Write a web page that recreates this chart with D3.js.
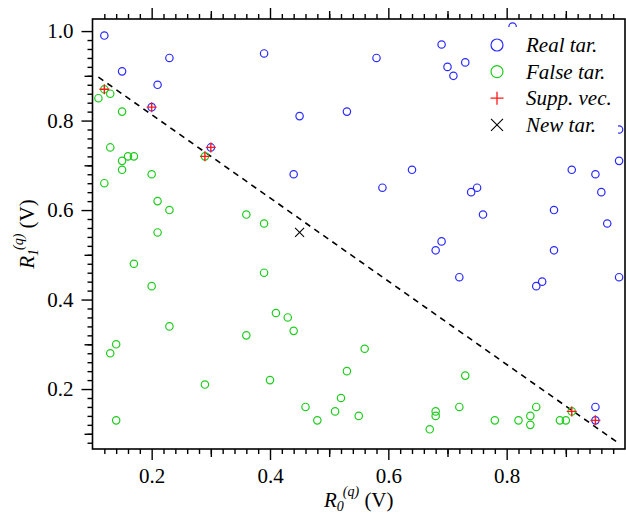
<!DOCTYPE html>
<meta charset="utf-8">
<script src="https://d3js.org/d3.v7.min.js"></script>
<body style="margin:0;background:#fff">
<div id="chart"></div>
<script>

// real targets (blue circles)
var realX = [0.12, 0.15, 0.21, 0.23, 0.20, 0.30, 0.39, 0.58, 0.45, 0.53, 0.69, 0.70, 0.71, 0.73, 0.81,
             0.99, 0.99, 0.91, 0.95, 0.96, 0.88, 0.97, 0.74, 0.75, 0.76, 0.88, 0.72, 0.85, 0.86, 0.99,
             0.95, 0.95, 0.44, 0.59, 0.64, 0.69, 0.68];
var realY = [0.99, 0.91, 0.88, 0.94, 0.83, 0.74, 0.95, 0.94, 0.81, 0.82, 0.97, 0.92, 0.90, 0.93, 1.01,
             0.78, 0.71, 0.69, 0.68, 0.64, 0.60, 0.57, 0.64, 0.65, 0.59, 0.51, 0.45, 0.43, 0.44, 0.45,
             0.16, 0.13, 0.68, 0.65, 0.69, 0.53, 0.51];

// false targets (green circles)
var falseX = [0.12, 0.11, 0.13, 0.15, 0.13, 0.15, 0.16, 0.17, 0.15, 0.20, 0.12, 0.29, 0.21, 0.23, 0.36,
              0.21, 0.17, 0.20, 0.23, 0.36, 0.14, 0.13, 0.29, 0.14, 0.39, 0.41, 0.43, 0.44, 0.56, 0.53,
              0.40, 0.52, 0.46, 0.51, 0.55, 0.48, 0.68, 0.68, 0.67, 0.73, 0.72, 0.78, 0.82, 0.84, 0.84,
              0.85, 0.89, 0.90, 0.91, 0.39];
var falseY = [0.87, 0.85, 0.86, 0.82, 0.74, 0.71, 0.72, 0.72, 0.69, 0.68, 0.66, 0.72, 0.62, 0.60, 0.59,
              0.55, 0.48, 0.43, 0.34, 0.32, 0.30, 0.28, 0.21, 0.13, 0.46, 0.37, 0.36, 0.33, 0.29, 0.24,
              0.22, 0.18, 0.16, 0.15, 0.14, 0.13, 0.15, 0.14, 0.11, 0.23, 0.16, 0.13, 0.13, 0.14, 0.12,
              0.16, 0.13, 0.13, 0.15, 0.57];

// support vectors (red plus)
var suppX = [0.12, 0.20, 0.29, 0.30, 0.91, 0.95];
var suppY = [0.87, 0.83, 0.72, 0.74, 0.15, 0.13];

// new target (black x)
var newX = [0.45];
var newY = [0.55];

// separating line (dashed)
var sepX = [0.11, 0.988];
var sepY = [0.897, 0.080];

var xMajor = [0.2, 0.4, 0.6, 0.8];
var yMajor = [0.2, 0.4, 0.6, 0.8, 1.0];
var legendLabels = ["Real tar.", "False tar.", "Supp. vec.", "New tar."];

var blue = "#2a2aff", green = "#1ecc1e", red = "#ff1a1a";
var serif = "'Liberation Serif', 'Times New Roman', Times, 'DejaVu Serif', serif";

var margin = {top: 19, right: 1, bottom: 67, left: 92.5},
    width = 626 - margin.left - margin.right,
    height = 516 - margin.top - margin.bottom;

var svg = d3.select("#chart")
  .append("svg")
    .attr("width", 626)
    .attr("height", 516)
    .style("font-family", serif)
  .append("g")
    .attr("transform", "translate(" + margin.left + "," + margin.top + ")");

var x = d3.scaleLinear().domain([0.1, 1.0]).range([0, width]);
var y = d3.scaleLinear().domain([0.066, 1.027]).range([height, 0]);

// tick sets
function near(v, list) { return list.some(function(t) { return Math.abs(t - v) < 1e-6; }); }
var xMinor = d3.range(6, 50).map(function(i) { return i * 0.02; }).filter(function(v) { return !near(v, xMajor); });
var xMid = [0.3, 0.5, 0.7, 0.9];
var yMinor = d3.range(4, 51).map(function(i) { return i * 0.02; }).filter(function(v) { return !near(v, yMajor); });
var yMid = [0.1, 0.3, 0.5, 0.7, 0.9];

function tickLayer(axisFn, scale, vals, size, transform, labels) {
  var g = svg.append("g").attr("transform", transform || null)
    .call(axisFn(scale).tickValues(vals).tickSize(size).tickPadding(10)
      .tickFormat(labels ? d3.format(".1f") : ""));
  g.attr("font-family", null);
  g.select(".domain").remove();
  g.selectAll("line").attr("stroke", "#000").attr("stroke-width", 1.4);
  return g;
}

// bottom
tickLayer(d3.axisBottom, x, xMinor, 5, "translate(0," + height + ")");
tickLayer(d3.axisBottom, x, xMid, 8, "translate(0," + height + ")");
var xl = tickLayer(d3.axisBottom, x, xMajor, 11, "translate(0," + height + ")", true);
xl.selectAll("text").attr("font-size", 21).style("font-family", serif).attr("fill", "#000").attr("dy", "0.62em");
// top
tickLayer(d3.axisTop, x, xMinor, 5);
tickLayer(d3.axisTop, x, xMid, 8);
tickLayer(d3.axisTop, x, xMajor, 11);
// left
tickLayer(d3.axisLeft, y, yMinor, 5);
tickLayer(d3.axisLeft, y, yMid, 8);
var yl = tickLayer(d3.axisLeft, y, yMajor, 11, null, true);
yl.selectAll("text").attr("font-size", 21).style("font-family", serif).attr("fill", "#000").attr("x", -19);

// clip
svg.append("clipPath").attr("id", "clip")
  .append("rect").attr("width", width).attr("height", height);
var plot = svg.append("g").attr("clip-path", "url(#clip)");

// dashed line
plot.append("path")
  .datum(d3.zip(sepX, sepY))
  .attr("d", d3.line().x(function(d) { return x(d[0]); }).y(function(d) { return y(d[1]); }))
  .attr("fill", "none")
  .attr("stroke", "#000")
  .attr("stroke-width", 1.6)
  .attr("stroke-dasharray", "6,5");

function circles(xs, ys, color) {
  plot.append("g").selectAll("circle")
    .data(d3.zip(xs, ys))
    .enter().append("circle")
      .attr("cx", function(d) { return x(d[0]); })
      .attr("cy", function(d) { return y(d[1]); })
      .attr("r", 3.7)
      .attr("fill", "none")
      .attr("stroke", color)
      .attr("stroke-width", 1.2);
}
circles(falseX, falseY, green);
circles(realX, realY, blue);

var plusPath = function(s) { return "M" + (-s) + ",0H" + s + "M0," + (-s) + "V" + s; };
var crossPath = function(s) { return "M" + (-s) + "," + (-s) + "L" + s + "," + s + "M" + (-s) + "," + s + "L" + s + "," + (-s); };

plot.append("g").selectAll("path")
  .data(d3.zip(suppX, suppY))
  .enter().append("path")
    .attr("transform", function(d) { return "translate(" + x(d[0]) + "," + y(d[1]) + ")"; })
    .attr("d", plusPath(5))
    .attr("stroke", red)
    .attr("stroke-width", 1.4);

plot.append("g").selectAll("path")
  .data(d3.zip(newX, newY))
  .enter().append("path")
    .attr("transform", function(d) { return "translate(" + x(d[0]) + "," + y(d[1]) + ")"; })
    .attr("d", crossPath(4.5))
    .attr("stroke", "#000")
    .attr("stroke-width", 1.1);

// legend (opaque box)
var leg = svg.append("g").attr("transform", "translate(" + (width - 142) + ",8)");
leg.append("rect").attr("width", 135).attr("height", 109).attr("fill", "#fff");
var legRows = leg.selectAll("g.row")
  .data(legendLabels)
  .enter().append("g")
    .attr("class", "row")
    .attr("transform", function(d, i) { return "translate(0," + (18 + i * 26.6) + ")"; });
legRows.append("text")
  .attr("x", 43)
  .attr("y", 7)
  .attr("font-size", 21)
  .style("font-family", serif)
  .attr("font-style", "italic")
  .text(function(d) { return d; });
legRows.each(function(d, i) {
  var r = d3.select(this);
  if (i === 0 || i === 1) {
    r.append("circle").attr("cx", 14).attr("r", 6).attr("fill", "none")
      .attr("stroke", i === 0 ? blue : green).attr("stroke-width", 1.2);
  } else if (i === 2) {
    r.append("path").attr("transform", "translate(14,0)").attr("d", plusPath(6.5))
      .attr("stroke", red).attr("stroke-width", 1.3);
  } else {
    r.append("path").attr("transform", "translate(14,0)").attr("d", crossPath(6))
      .attr("stroke", "#000").attr("stroke-width", 1.1);
  }
});

// frame
svg.append("rect")
  .attr("width", width)
  .attr("height", height)
  .attr("fill", "none")
  .attr("stroke", "#000")
  .attr("stroke-width", 1.6);

// axis titles
var xt = svg.append("text")
  .attr("x", width / 2)
  .attr("y", height + 58)
  .attr("text-anchor", "middle")
  .style("font-family", serif)
  .attr("font-size", 21);
xt.append("tspan").attr("font-style", "italic").text("R");
xt.append("tspan").attr("font-style", "italic").attr("font-size", 14).attr("dy", 4).text("0");
xt.append("tspan").attr("font-style", "italic").attr("font-size", 14).attr("dy", -15).attr("dx", -1).text("(q)");
xt.append("tspan").attr("dy", 11).text(" (V)");

var yt = svg.append("text")
  .attr("transform", "translate(" + (-59) + "," + (height / 2) + ") rotate(-90)")
  .attr("text-anchor", "middle")
  .style("font-family", serif)
  .attr("font-size", 21);
yt.append("tspan").attr("font-style", "italic").text("R");
yt.append("tspan").attr("font-style", "italic").attr("font-size", 14).attr("dy", 4).text("1");
yt.append("tspan").attr("font-style", "italic").attr("font-size", 14).attr("dy", -15).attr("dx", -1).text("(q)");
yt.append("tspan").attr("dy", 11).text(" (V)");

</script>
</body>
